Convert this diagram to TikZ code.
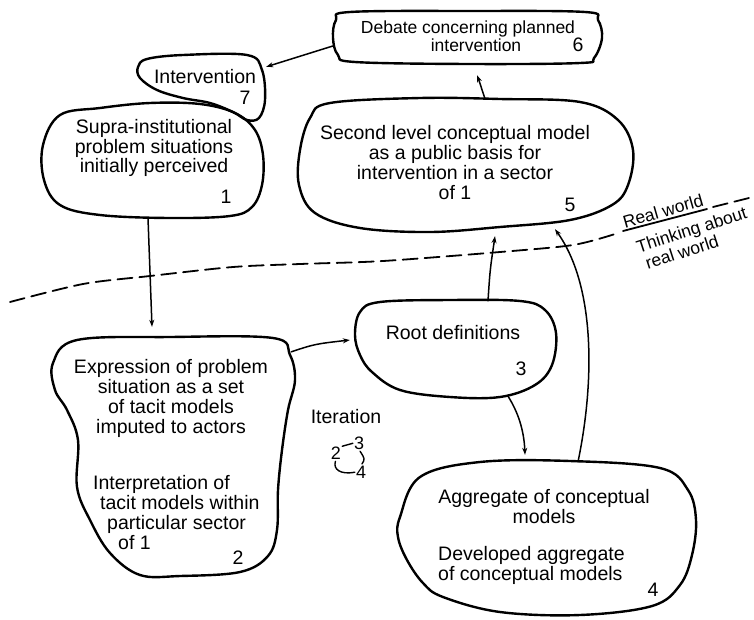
\documentclass[tikz,border=0pt]{standalone}
\usepackage{fontspec}
\setmainfont{Liberation Sans}
\usetikzlibrary{arrows.meta}

\begin{document}
\begin{tikzpicture}[x=1pt, y=-1pt, line join=round, line cap=round,
  every node/.style={inner sep=0pt, font=\fontsize{19.5}{20}\selectfont},
  stage/.style 2 args={minimum width=#1pt, minimum height=#2pt},
  blob/.style={line width=2.4pt},
  txt/.style={align=center},
  arr/.style={line width=1.5pt, -{Stealth[length=7pt,width=5pt]}},
  worldline/.style={line width=1.8pt, dash pattern=on 15pt off 7pt},
  worldtext/.style={font=\fontsize{17.5}{18}\selectfont, rotate=18},
  loopnum/.style={font=\fontsize{18}{18}\selectfont}]
\useasboundingbox (0,0) rectangle (754,619);

\node[stage={268}{53}] (b6) at (467,37.5) {};
\node[stage={129}{67}] (b7) at (201.5,86.5) {};
\node[stage={221}{115}] (b1) at (152.5,160.5) {};
\node[stage={335}{135}] (b5) at (465.5,165.5) {};
\node[stage={242}{238}] (b2) at (174,456) {};
\node[stage={201}{98}] (b3) at (455.5,349) {};
\node[stage={298}{155}] (b4) at (547,538.5) {};

\draw[blob] plot[smooth cycle, tension=0.6] coordinates {(350,12) (470,11) (585,12) (598,20) (602,38) (594,58) (580,63) (470,64) (355,62) (338,55) (333,38) (336,20)};
\draw[blob] plot[smooth cycle, tension=0.6] coordinates {(147,59) (183,55) (247,55) (262,70) (265,100) (259,118) (247,120) (233,112) (210,103) (183,98) (157,90) (140,78) (138,67)};
\draw[blob] plot[smooth cycle, tension=0.6] coordinates {(60,115) (100,108) (150,103) (200,104) (235,113) (255,130) (263,155) (262,185) (252,207) (230,216) (170,218) (100,215) (60,205) (44,180) (43,145)};
\draw[blob] plot[smooth cycle, tension=0.6] coordinates {(330,103) (420,98) (500,99) (580,102) (618,120) (633,150) (628,185) (612,205) (570,220) (500,227) (430,232) (360,228) (315,213) (299,185) (300,150) (310,118)};
\draw[blob] plot[smooth cycle, tension=0.6] coordinates {(77,340) (170,337) (273,338) (290,355) (295,380) (288,410) (282,450) (278,490) (277,530) (268,556) (240,572) (180,576) (140,575) (110,553) (90,520) (77,487) (78,440) (67,410) (55,390) (53,363)};
\draw[blob] plot[smooth cycle, tension=0.6] coordinates {(380,302) (450,300) (520,301) (545,310) (556,333) (552,365) (535,385) (500,397) (450,397) (400,390) (372,372) (360,355) (355,335) (360,312)};
\draw[blob] plot[smooth cycle, tension=0.6] coordinates {(480,462) (570,461) (660,468) (688,490) (696,520) (692,555) (680,585) (652,606) (580,615) (500,612) (443,597) (423,583) (407,560) (398,537) (400,517) (420,477)};

\node[txt, font=\fontsize{17.5}{18}\selectfont] (t6) at (468,36) {Debate concerning planned\\\hspace*{16pt}intervention};
\node (n6) at (578,45) {6};
\node (t7) at (205,77) {Intervention};
\node (n7) at (245,98) {7};
\node[txt, font=\fontsize{19.5}{18}\selectfont] (t1) at (154,148) {Supra-institutional\\problem situations\\initially perceived};
\node (n1) at (226,197) {1};
\node[txt] (t5) at (455,163) {Second level conceptual model\\as a public basis for\\intervention in a sector\\of 1};
\node (n5) at (570,205) {5};
\node[txt] (t2) at (171,398) {Expression of problem\\situation as a set\\of tacit models\\imputed to actors};
\node[align=left, anchor=west] (t2b) at (93,513) {Interpretation of\\\hspace*{7pt}tacit models within\\\hspace*{14pt}particular sector\\\hspace*{25pt}of 1};
\node (n2) at (238,558) {2};
\node (t3) at (453,333) {Root definitions};
\node (n3) at (521,369) {3};
\node[txt] (t4) at (544,507) {Aggregate of conceptual\\models};
\node[align=left, anchor=west] (t4b) at (438,565) {Developed aggregate\\of conceptual models};
\node (n4) at (653,590) {4};

\draw[arr] ([yshift=-8.5pt]b6.west) -- ([yshift=-14pt]b7.north east);
\draw[arr] ([xshift=19.5pt,yshift=-1pt]b5.north) .. controls (482,88) .. ([xshift=10pt,yshift=-11pt]b6.south);
\draw[arr] ([xshift=-4.5pt]b1.south) -- ([xshift=-22pt,yshift=10pt]b2.north);
\draw[arr] ([xshift=-4pt,yshift=-15pt]b2.north east) .. controls (315,344) .. ([xshift=-5pt,yshift=9pt]b3.west);
\draw[arr] ([xshift=32.5pt,yshift=-1pt]b3.north) .. controls (490,270) .. ([xshift=29.5pt,yshift=-3pt]b5.south);
\draw[arr] ([xshift=52.5pt,yshift=2pt]b3.south) .. controls (518,412) and (524,430) .. ([xshift=-22pt,yshift=6pt]b4.north);
\draw[arr] ([xshift=31pt,yshift=-1pt]b4.north) .. controls (595,380) and (595,285) .. ([xshift=89.5pt,yshift=4pt]b5.south);

\draw[worldline] plot[smooth, tension=0.5] coordinates {(10,302) (83,284) (150,276) (233,267) (300,264) (383,261) (500,252) (573,245) (615,234)};
\draw[line width=1.8pt] (623,231) -- (707,209);
\draw[worldline] (713,207) -- (753,197);
\node[worldtext, rotate=-2] (rw) at (663,211) {Real world};
\node[worldtext] (tw) at (692,231) {Thinking about};
\node[worldtext] (tw2) at (682,252) {real world};

\node (it) at (346,417) {Iteration};
\node[loopnum] (i2) at (336,453) {2};
\node[loopnum] (i3) at (359,443) {3};
\node[loopnum] (i4) at (361,472) {4};
\draw[line width=1.4pt, shorten <=1pt, shorten >=1pt] (i2.north east) -- (i3.west);
\draw[line width=1.4pt, shorten <=2pt, shorten >=2pt] (i3.south) .. controls (365,459) .. (i4.north);
\draw[line width=1.4pt, shorten <=1pt, shorten >=2pt] (i4.west) .. controls (340,475) and (333,469) .. (i2.south);
\end{tikzpicture}
\end{document}
